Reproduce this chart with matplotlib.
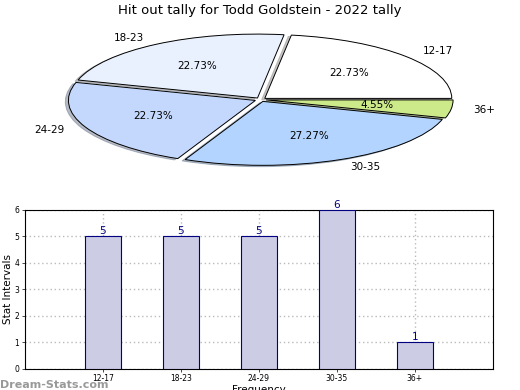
import matplotlib
matplotlib.use('Agg')
import matplotlib.pyplot as plt

# pie + bar of the same counts
categories = ['12-17', '18-23', '24-29', '30-35', '36+']
counts = [5, 5, 5, 6, 1]
slice_colors = ['#ffffff', '#eaf1fe', '#c4d8fe', '#b3d4fe', '#cdea8a']

fig = plt.figure(figsize=(5.2, 3.9), dpi=100)
fig.suptitle('Hit out tally for Todd Goldstein - 2022 tally', fontsize=9.5, y=0.99)

ax1 = fig.add_axes([0.127, 0.574, 0.748, 0.341])
wedges, texts, autotexts = ax1.pie(counts, labels=categories, colors=slice_colors,
                                   explode=[0.03] * len(counts),
                                   shadow={'ox': -0.012, 'oy': -0.015, 'shade': 0.45},
                                   startangle=0, counterclock=True,
                                   autopct='%.2f%%', pctdistance=0.6, labeldistance=1.12,
                                   wedgeprops={'edgecolor': 'black', 'linewidth': 0.7},
                                   textprops={'fontsize': 7.5})
ax1.set_aspect('auto')
ax1.set_xlim(-1.04, 1.04)
ax1.set_ylim(-1.04, 1.04)

ax2 = fig.add_axes([0.048, 0.054, 0.9, 0.408])
x = range(len(categories))
ax2.bar(x, counts, width=0.46, color='#ccccE4', edgecolor='#000080', linewidth=0.8, zorder=3)
for i, v in zip(x, counts):
    ax2.text(i, v, str(v), color='#000080', ha='center', va='bottom', fontsize=7.5, zorder=4)
ax2.set_xlim(-1, 5)
ax2.set_ylim(0, 6)
ax2.set_xticks(list(x))
ax2.set_xticklabels(categories)
ax2.set_yticks(range(7))
ax2.tick_params(labelsize=5.5, length=2, width=0.5, pad=2)
ax2.grid(True, linestyle=(0, (1, 2)), color='#bbbbbb', linewidth=1.0, zorder=0)
ax2.set_ylabel('Stat Intervals', fontsize=7.5, labelpad=1)
ax2.set_xlabel('Frequency', fontsize=7.5, labelpad=1)
for s in ax2.spines.values():
    s.set_linewidth(0.8)

fig.text(0.0, 0.005, 'Dream-Stats.com', color='#999999', fontsize=8, fontweight='bold')

fig.savefig('out.png', dpi=100)
